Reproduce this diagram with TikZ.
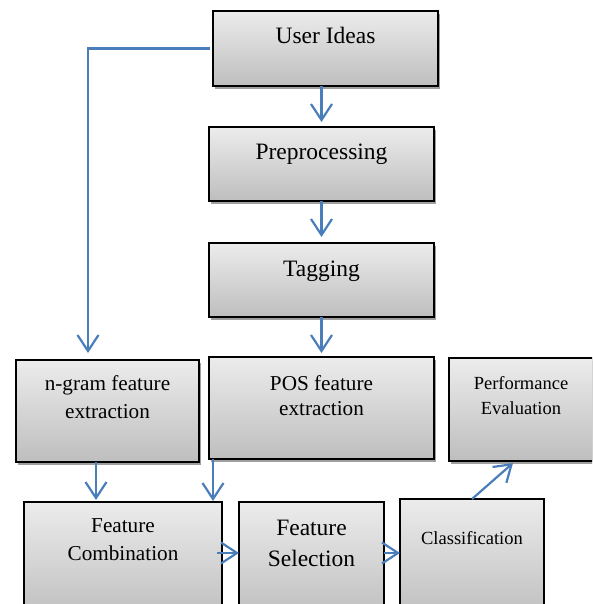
\documentclass[tikz,border=0pt]{standalone}
\usepackage{fontspec}
\setmainfont{Liberation Serif}
\usetikzlibrary{arrows.meta,calc,shadows}
\definecolor{arrowblue}{RGB}{74,126,187}
\definecolor{boxtop}{RGB}{236,236,236}
\definecolor{boxbot}{RGB}{190,190,190}
\tikzset{
  box/.style={draw=black, line width=1.6pt, top color=boxtop, bottom color=boxbot,
    inner sep=0pt, outer sep=0pt},
  shadowed/.style={drop shadow={shadow xshift=1.5pt, shadow yshift=-3pt, fill=gray!75, opacity=1}},
  conn/.style={draw=arrowblue, line width=2.2pt, -{Straight Barb[length=16pt,width=21pt,line width=2.2pt]}},
  big/.style={font=\fontsize{23.5}{30}\selectfont, inner sep=0pt, anchor=base, align=center},
  mid/.style={font=\fontsize{21.2}{27}\selectfont, inner sep=0pt, anchor=base, align=center},
  small/.style={font=\fontsize{18.5}{25}\selectfont, inner sep=0pt, anchor=base, align=center}
}
\begin{document}
\begin{tikzpicture}[x=1pt,y=-1pt]
\clip (0,0) rectangle (592,604);
\useasboundingbox (0,0) rectangle (592,604);
% boxes
\node[box,shadowed,minimum width=225pt,minimum height=75pt] (user) at (325.5,48.5) {};
\node[box,shadowed,minimum width=225pt,minimum height=74pt] (pre) at (321.5,164) {};
\node[box,shadowed,minimum width=225pt,minimum height=74pt] (tag) at (321.5,280) {};
\node[box,shadowed,minimum width=183pt,minimum height=102pt] (ngram) at (107.5,411) {};
\node[box,shadowed,minimum width=225pt,minimum height=102pt] (pos) at (321.5,408) {};
\node[box,shadowed,minimum width=144pt,minimum height=103pt] (perf) at (521,409.5) {};
\node[box,minimum width=198pt,minimum height=118pt] (comb) at (123,561) {};
\node[box,minimum width=145pt,minimum height=118pt] (sel) at (311.5,561) {};
\node[box,minimum width=144pt,minimum height=121pt] (class) at (472,559.5) {};
% texts (anchor base = baseline of the last line)
\node[big] (tuser) at (user.center |- 0,44) {User Ideas};
\node[big] (tpre) at (pre.center |- 0,160) {Preprocessing};
\node[big] (ttag) at (tag.center |- 0,276) {Tagging};
\node[mid,font=\fontsize{21.2}{28}\selectfont] (tngram) at (ngram.center |- 0,418.5) {n-gram feature\\extraction};
\node[mid,font=\fontsize{21.2}{25}\selectfont] (tpos) at (pos.center |- 0,415) {POS feature\\extraction};
\node[small] (tperf) at (perf.center |- 0,414) {Performance\\Evaluation};
\node[mid,font=\fontsize{21.2}{28.5}\selectfont] (tcomb) at (comb.center |- 0,560.5) {Feature\\Combination};
\node[big,font=\fontsize{23.5}{31.5}\selectfont] (tsel) at (sel.center |- 0,566.5) {Feature\\Selection};
\node[small] (tclass) at (class.center |- 0,544) {Classification};
% connectors
\coordinate (ngin) at ($(ngram.north west)+(72,0)$);
\draw[conn, shorten >=7pt] ([xshift=-3pt]user.west) -| (ngin);
\draw[conn, shorten >=5pt] (pre.north |- user.south) -- (pre.north);
\draw[conn, shorten >=6pt] (pre.south) -- (tag.north);
\draw[conn, shorten >=4pt] (tag.south) -- (pos.north);
\draw[conn, shorten >=2pt] ($(ngram.south west)+(80,0)$) -- ($(comb.north west)+(72,0)$);
\draw[conn, shorten >=1pt] ($(pos.south west)+(4,0)$) -- ($(comb.north east)+(-9,0)$);
\draw[conn] ($(comb.north east)+(-5,51)$) -- ($(sel.north west)+(0,51)$);
\draw[conn] ($(sel.north east)+(0,51)$) -- ($(class.north west)+(0,54)$);
\draw[conn] (class.north) -- ($(perf.south west)+(64,2)$);
\end{tikzpicture}
\end{document}
